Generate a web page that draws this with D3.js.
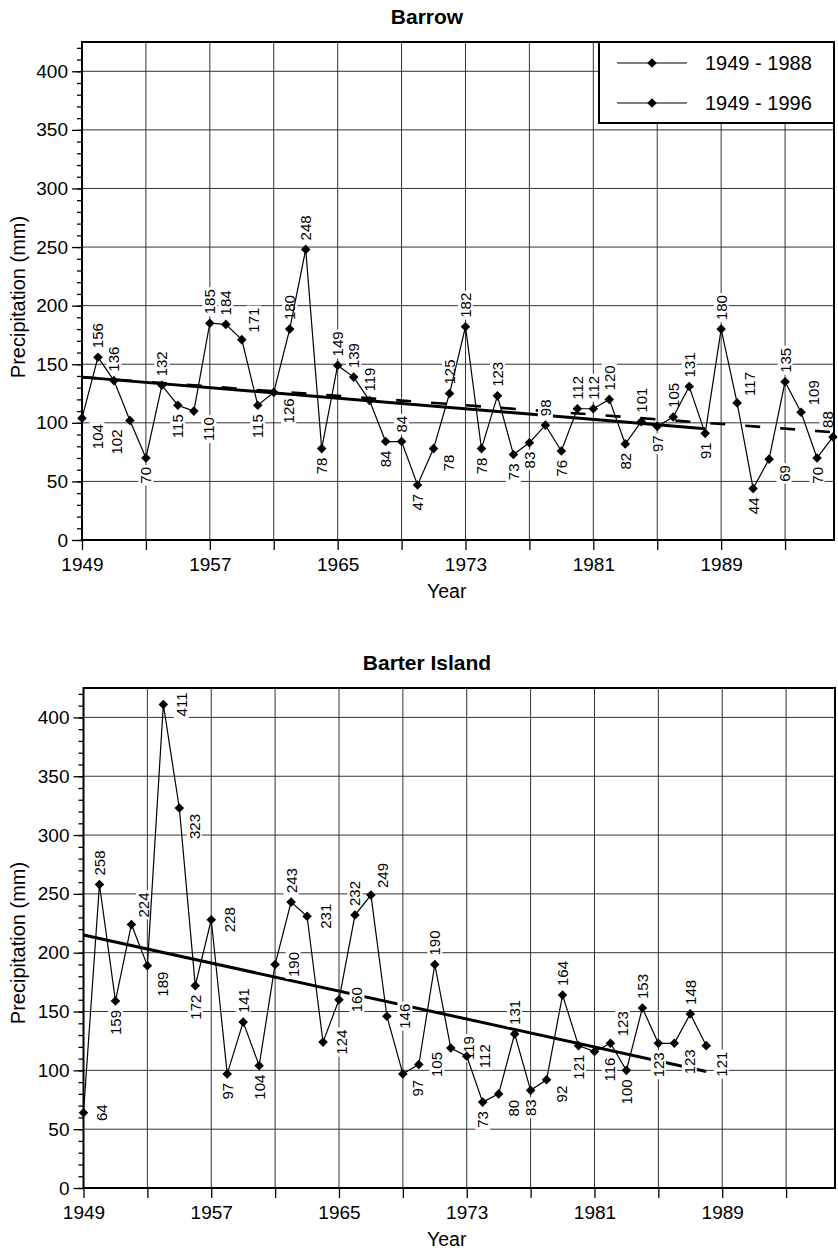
<!DOCTYPE html>
<html>
<head>
<meta charset="utf-8">
<script src="https://cdn.jsdelivr.net/npm/d3@7"></script>
<style>
  body { margin: 0; background: #fff; }
  svg text { font-family: "Liberation Sans", Arial, Helvetica, sans-serif; fill: #000; }
</style>
</head>
<body>
<svg id="chart" width="838" height="1251"></svg>
<script>
// ---- data ----
var barrowYears = [1949, 1950, 1951, 1952, 1953, 1954, 1955, 1956, 1957, 1958, 1959, 1960,
  1961, 1962, 1963, 1964, 1965, 1966, 1967, 1968, 1969, 1970, 1971, 1972, 1973, 1974,
  1975, 1976, 1977, 1978, 1979, 1980, 1981, 1982, 1983, 1984, 1985, 1986, 1987, 1988,
  1989, 1990, 1991, 1992, 1993, 1994, 1995, 1996];
var barrowPrecip = [104, 156, 136, 102, 70, 132, 115, 110, 185, 184, 171, 115,
  126, 180, 248, 78, 149, 139, 119, 84, 84, 47, 78, 125, 182, 78,
  123, 73, 83, 98, 76, 112, 112, 120, 82, 101, 97, 105, 131, 91,
  180, 117, 44, 69, 135, 109, 70, 88];
// where each value label sits: a above, b below, r right, A above-right, B below-right, L below-left
var barrowLabelPos = ["B", "a", "a", "L", "b", "a", "b", "B",
  "a", "a", "A", "b", "B", "a", "a", "b",
  "a", "a", "a", "b", "a", "b", "B", "a",
  "a", "b", "a", "b", "b", "a", "b", "a",
  "a", "a", "b", "a", "b", "a", "a", "b",
  "a", "A", "b", "B", "a", "A", "b", "a"];
var barrowTrend4988 = [[1949, 139], [1988, 95]];
var barrowTrend4996 = [[1949, 139], [1996, 92]];

var barterYears = [1949, 1950, 1951, 1952, 1953, 1954, 1955, 1956, 1957, 1958, 1959, 1960,
  1961, 1962, 1963, 1964, 1965, 1966, 1967, 1968, 1969, 1970, 1971, 1972, 1973, 1974,
  1975, 1976, 1977, 1978, 1979, 1980, 1981, 1982, 1983, 1984, 1985, 1986, 1987, 1988];
var barterPrecip = [64, 258, 159, 224, 189, 411, 323, 172, 228, 97, 141, 104,
  190, 243, 231, 124, 160, 232, 249, 146, 97, 105, 190, 119, 112, 73,
  80, 131, 83, 92, 164, 121, 116, 123, 100, 153, 123, 123, 148, 121];
var barterLabelPos = ["r", "a", "b", "A", "B", "r", "B", "b",
  "r", "b", "a", "b", "r", "a", "r", "r",
  "r", "a", "A", "r", "B", "r", "a", "r",
  "r", "b", "B", "a", "b", "B", "a", "b",
  "B", "A", "b", "a", "b", "B", "a", "B"];
var barterTrend4988 = [[1949, 215], [1988, 99]];

var yTicks = [0, 50, 100, 150, 200, 250, 300, 350, 400];
var yMinorTicks = d3.range(0, 421, 10);
var xTicks = [1949, 1953, 1957, 1961, 1965, 1969, 1973, 1977, 1981, 1985, 1989, 1993];
var xTickLabels = ["1949", "1957", "1965", "1973", "1981", "1989"];
var legendLabels = ["1949 - 1988", "1949 - 1996"];

var svg = d3.select("#chart");

function diamond(sel) {
  sel.attr("d", d3.symbol().type(d3.symbolSquare).size(46)())
    .attr("fill", "#000");
}

function drawPanel(cfg) {
  var x = d3.scaleLinear().domain([1949, 1996]).range([cfg.left, cfg.right - 1]);
  var y = d3.scaleLinear().domain([0, 425]).range([cfg.bottom, cfg.top]);
  var g = svg.append("g");

  // grid
  g.append("g").selectAll("line").data(yTicks.filter(d => d > 0)).enter().append("line")
    .attr("x1", cfg.left).attr("x2", cfg.right)
    .attr("y1", d => y(d)).attr("y2", d => y(d))
    .attr("stroke", "#333").attr("stroke-width", 1);
  g.append("g").selectAll("line").data(xTicks.filter(d => d > 1949)).enter().append("line")
    .attr("x1", d => x(d)).attr("x2", d => x(d))
    .attr("y1", cfg.top).attr("y2", cfg.bottom)
    .attr("stroke", "#333").attr("stroke-width", 1);

  // axes
  var yAxis = g.append("g").attr("transform", "translate(" + cfg.left + ",0)")
    .call(d3.axisLeft(y).tickValues(yTicks).tickSize(10).tickPadding(4));
  g.append("g").attr("transform", "translate(" + cfg.left + ",0)")
    .call(d3.axisLeft(y).tickValues(yMinorTicks).tickSize(5).tickFormat(""));
  var xAxis = g.append("g").attr("transform", "translate(0," + cfg.bottom + ")")
    .call(d3.axisBottom(x).tickValues(xTicks).tickSize(10).tickPadding(8)
      .tickFormat(d => xTickLabels.indexOf(String(d)) >= 0 ? d : ""));
  g.selectAll(".domain").remove();
  g.selectAll(".tick line").attr("stroke", "#000").attr("stroke-width", 1.3);
  yAxis.selectAll("text").style("font-size", "19px").attr("fill", "#000");
  xAxis.selectAll("text").style("font-size", "19px").attr("fill", "#000");

  // trend lines
  var line = d3.line().x(d => x(d[0])).y(d => y(d[1]));
  cfg.trends.forEach(function (t) {
    g.append("path").attr("d", line(t.pts))
      .attr("fill", "none").attr("stroke", "#000")
      .attr("stroke-width", t.dash ? 2.6 : 3)
      .attr("stroke-dasharray", t.dash || null);
  });

  var boxLayer = g.append("g");
  var dataLayer = g.append("g");
  var textLayer = g.append("g");

  var pts = cfg.years.map((yr, i) => [yr, cfg.values[i]]);
  dataLayer.append("path").attr("d", line(pts))
    .attr("fill", "none").attr("stroke", "#000").attr("stroke-width", 1.2);
  dataLayer.selectAll(".pt").data(pts).enter().append("path")
    .attr("class", "pt")
    .attr("transform", d => "translate(" + x(d[0]) + "," + y(d[1]) + ") rotate(45)")
    .call(diamond);

  // value labels, rotated, with white boxes that mask grid and trend
  pts.forEach(function (d, i) {
    var px = x(d[0]), py = y(d[1]);
    var p = cfg.pos[i], lx = px, ly = py, anchor = "start";
    if (p === "a") { ly = py - 9; }
    else if (p === "A") { lx = px + 12; ly = py - 7; }
    else if (p === "b") { ly = py + 9; anchor = "end"; }
    else if (p === "B") { lx = px + 15; ly = py + 6; anchor = "end"; }
    else if (p === "L") { lx = px - 13; ly = py + 9; anchor = "end"; }
    else if (p === "r") { lx = px + 18; anchor = "middle"; }
    lx = Math.min(lx, cfg.right - 7);
    var tr = "translate(" + lx + "," + ly + ") rotate(-90)";
    var t = textLayer.append("text").attr("transform", tr)
      .attr("text-anchor", anchor).attr("dominant-baseline", "central")
      .style("font-size", "15px").text(d[1]);
    var bb = t.node().getBBox();
    boxLayer.append("rect").attr("transform", tr)
      .attr("x", bb.x - 2).attr("y", bb.y + 1)
      .attr("width", bb.width + 4).attr("height", bb.height - 2)
      .attr("fill", "#fff");
  });

  // frame
  g.append("rect").attr("x", cfg.left).attr("y", cfg.top)
    .attr("width", cfg.right - cfg.left).attr("height", cfg.bottom - cfg.top)
    .attr("fill", "none").attr("stroke", "#000").attr("stroke-width", 2);

  // texts
  g.append("text").attr("x", 427).attr("y", cfg.top - 18)
    .attr("text-anchor", "middle").style("font-size", "21px").style("font-weight", "bold")
    .text(cfg.title);
  g.append("text").attr("transform", "translate(25," + (cfg.top + 255) + ") rotate(-90)")
    .attr("text-anchor", "middle").style("font-size", "20px")
    .text("Precipitation (mm)");
  g.append("text").attr("x", 427).attr("y", cfg.bottom + 58)
    .style("font-size", "19.5px").text("Year");

  if (cfg.legend) {
    var lg = g.append("g");
    lg.append("rect").attr("x", 599).attr("y", cfg.top)
      .attr("width", cfg.right - 599).attr("height", 81)
      .attr("fill", "#fff").attr("stroke", "#000").attr("stroke-width", 2);
    legendLabels.forEach(function (lab, i) {
      var ly = cfg.top + 21 + i * 40;
      lg.append("line").attr("x1", 617).attr("x2", 687).attr("y1", ly).attr("y2", ly)
        .attr("stroke", "#000").attr("stroke-width", 1.2);
      lg.append("path").attr("transform", "translate(652," + ly + ") rotate(45)").call(diamond);
      lg.append("text").attr("x", 705).attr("y", ly + 7).style("font-size", "20px").text(lab);
    });
  }
}

drawPanel({
  title: "Barrow", years: barrowYears, values: barrowPrecip, pos: barrowLabelPos,
  trends: [{ pts: barrowTrend4988 }, { pts: barrowTrend4996, dash: "15,20" }],
  left: 82, right: 834, top: 42, bottom: 540, legend: true
});
drawPanel({
  title: "Barter Island", years: barterYears, values: barterPrecip, pos: barterLabelPos,
  trends: [{ pts: barterTrend4988 }],
  left: 83.5, right: 835, top: 688, bottom: 1188, legend: false
});
</script>
</body>
</html>
